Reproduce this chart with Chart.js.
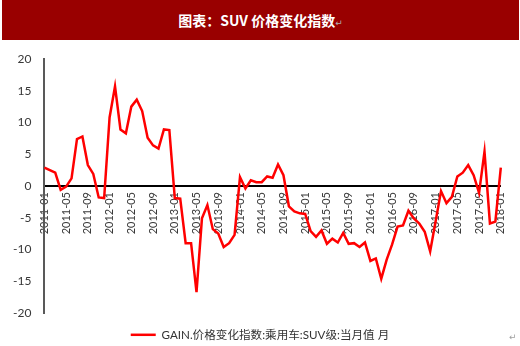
<!DOCTYPE html>
<html>
<head>
<meta charset="utf-8">
<script src="https://cdn.jsdelivr.net/npm/chart.js@4.4.1/dist/chart.umd.min.js"></script>
<style>
  html, body { margin: 0; padding: 0; background: #fff; }
  #wrap { position: relative; width: 520px; height: 346px; overflow: hidden; }
  #titlebar { position: absolute; left: 2px; top: 0; width: 517px; height: 40px; background: #990000;
    color: #fff; font: bold 14px "Noto Sans CJK SC", sans-serif; text-align: center; line-height: 40px; z-index: 2; }
  #titlebar .ret { color: #b0b0b0; font: 9px "DejaVu Sans", sans-serif; font-weight: normal; }
  #ret2 { position: absolute; left: 509px; top: 332px; color: #a0a0a0; font: 9px "DejaVu Sans", sans-serif; z-index: 2; }
  canvas { position: absolute; left: 0; top: 0; }
</style>
</head>
<body>
<div id="wrap">
  <div id="titlebar">图表：SUV 价格变化指数<span class="ret">↵</span></div>
  <canvas id="c" width="520" height="346"></canvas>
  <div id="ret2">↵</div>
</div>
<script>
const categories = [
  "2011-01","2011-02","2011-03","2011-04","2011-05","2011-06","2011-07","2011-08","2011-09","2011-10","2011-11","2011-12",
  "2012-01","2012-02","2012-03","2012-04","2012-05","2012-06","2012-07","2012-08","2012-09","2012-10","2012-11","2012-12",
  "2013-01","2013-02","2013-03","2013-04","2013-05","2013-06","2013-07","2013-08","2013-09","2013-10","2013-11","2013-12",
  "2014-01","2014-02","2014-03","2014-04","2014-05","2014-06","2014-07","2014-08","2014-09","2014-10","2014-11","2014-12",
  "2015-01","2015-02","2015-03","2015-04","2015-05","2015-06","2015-07","2015-08","2015-09","2015-10","2015-11","2015-12",
  "2016-01","2016-02","2016-03","2016-04","2016-05","2016-06","2016-07","2016-08","2016-09","2016-10","2016-11","2016-12",
  "2017-01","2017-02","2017-03","2017-04","2017-05","2017-06","2017-07","2017-08","2017-09","2017-10","2017-11","2017-12",
  "2018-01"
];
const suvPriceIndex = [
  2.9, 2.5, 2.1, -0.6, -0.1, 1.2, 7.4, 7.8, 3.3, 1.9, -1.8, -1.9,
  10.8, 15.7, 8.9, 8.3, 12.5, 13.6, 11.8, 7.6, 6.4, 5.9, 8.9, 8.8,
  -1.9, -2.0, -9.0, -9.0, -16.7, -5.1, -3.0, -6.8, -7.5, -9.6, -9.0, -7.7,
  1.4, -0.4, 0.9, 0.6, 0.6, 1.5, 1.3, 3.4, 1.7, -3.2, -4.0, -4.3,
  -4.4, -7.1, -8.0, -7.0, -9.1, -8.3, -8.9, -7.4, -9.1, -9.0, -9.6, -8.9,
  -11.8, -11.4, -14.6, -11.6, -9.2, -6.4, -6.2, -3.9, -5.1, -5.9, -7.2, -10.3,
  -5.6, -0.8, -2.7, -1.7, 1.5, 2.1, 3.3, 1.7, -1.1, 5.4, -5.9, -5.6,
  2.9
];
const xTickLabels = [
  "2011-01","2011-05","2011-09","2012-01","2012-05","2012-09","2013-01","2013-05","2013-09",
  "2014-01","2014-05","2014-09","2015-01","2015-05","2015-09","2016-01","2016-05","2016-09",
  "2017-01","2017-05","2017-09","2018-01"
];
const yTickValues = [-20, -15, -10, -5, 0, 5, 10, 15, 20];
const seriesName = "GAIN.价格变化指数:乘用车:SUV级:当月值 月";

const FONT = 'Lato, "Noto Sans CJK SC", sans-serif';
const LEGEND_H = 33;

const legendFitPlugin = {
  id: 'legendFit',
  beforeInit(chart) {
    if (!chart.legend) return;
    const origFit = chart.legend.fit;
    chart.legend.fit = function () {
      origFit.call(this);
      this.height = LEGEND_H;
    };
  },
  afterLayout(chart) {
    if (!chart.legend) return;
    chart.legend.left = 0;
    chart.legend.right = chart.width;
    chart.legend.width = chart.width;
  }
};

new Chart(document.getElementById('c'), {
  type: 'line',
  data: {
    labels: categories,
    datasets: [{
      label: seriesName,
      data: suvPriceIndex,
      borderColor: '#ff0000',
      backgroundColor: '#ff0000',
      borderWidth: 2.5,
      pointRadius: 0,
      tension: 0,
      fill: false
    }]
  },
  options: {
    responsive: false,
    animation: false,
    devicePixelRatio: 1,
    layout: { padding: { top: 59, left: 0, right: 16, bottom: 0 } },
    plugins: {
      tooltip: { enabled: false },
      legend: {
        position: 'bottom',
        labels: {
          usePointStyle: true,
          pointStyle: 'line',
          pointStyleWidth: 25,
          padding: 16,
          color: '#333333',
          font: { family: FONT, size: 11.6 }
        }
      }
    },
    scales: {
      x: {
        type: 'category',
        position: { y: 0 },
        offset: false,
        grid: { display: false, drawTicks: false },
        border: { display: true, color: '#000000', width: 2 },
        ticks: {
          autoSkip: false,
          maxRotation: 90,
          minRotation: 90,
          padding: 6,
          color: '#383838',
          font: { family: FONT, size: 11 },
          callback: function (v, i) {
            const lab = categories[i];
            return xTickLabels.includes(lab) ? lab : null;
          }
        }
      },
      y: {
        min: -20,
        max: 20,
        grid: { display: false, drawTicks: false },
        border: { display: true, color: '#595959', width: 2 },
        afterBuildTicks(scale) { scale.ticks = yTickValues.map(v => ({ value: v })); },
        ticks: {
          padding: 13,
          color: '#383838',
          font: { family: FONT, size: 12 }
        }
      }
    }
  },
  plugins: [legendFitPlugin]
});
</script>
</body>
</html>
